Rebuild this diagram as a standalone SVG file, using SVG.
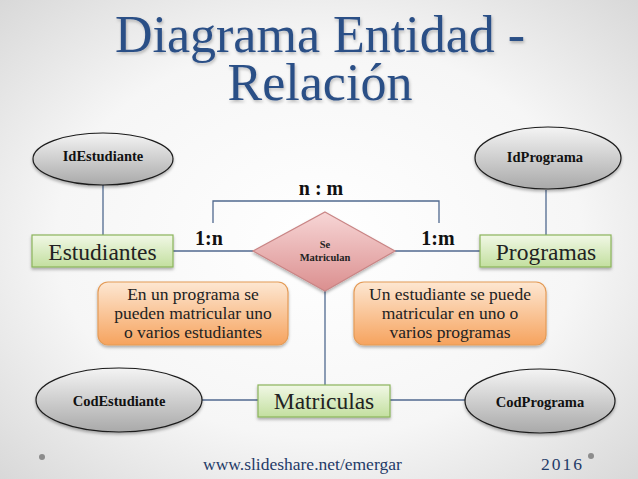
<svg xmlns="http://www.w3.org/2000/svg" width="638" height="479" viewBox="0 0 638 479" font-family="Liberation Serif, DejaVu Serif, serif">
<defs>
  <radialGradient id="bg" cx="0.5" cy="0.5" r="0.75">
    <stop offset="0" stop-color="#ffffff"/>
    <stop offset="0.55" stop-color="#f6f6f6"/>
    <stop offset="1" stop-color="#d4d4d4"/>
  </radialGradient>
  <linearGradient id="gEll" x1="0" y1="0" x2="0" y2="1">
    <stop offset="0" stop-color="#f4f4f4"/>
    <stop offset="1" stop-color="#a9a9a9"/>
  </linearGradient>
  <linearGradient id="gRect" x1="0" y1="0" x2="0" y2="1">
    <stop offset="0" stop-color="#f1f8e6"/>
    <stop offset="1" stop-color="#c3df9f"/>
  </linearGradient>
  <linearGradient id="gDia" x1="0" y1="0" x2="0" y2="1">
    <stop offset="0" stop-color="#f7d6d6"/>
    <stop offset="1" stop-color="#db8f8f"/>
  </linearGradient>
  <linearGradient id="gNote" x1="0" y1="0" x2="0" y2="1">
    <stop offset="0" stop-color="#fde7d2"/>
    <stop offset="1" stop-color="#f6a35e"/>
  </linearGradient>
  <filter id="sh" x="-20%" y="-20%" width="140%" height="150%">
    <feDropShadow dx="0" dy="2" stdDeviation="1.5" flood-color="#000" flood-opacity="0.3"/>
  </filter>
  <filter id="tsh" x="-5%" y="-10%" width="110%" height="130%">
    <feDropShadow dx="1" dy="2" stdDeviation="1.5" flood-color="#000" flood-opacity="0.25"/>
  </filter>
</defs>
<style>
  .ell { fill: url(#gEll); stroke: #1c1c1c; stroke-width: 1.2; }
  .ent { fill: url(#gRect); stroke: #8bb45a; stroke-width: 1.2; }
  .rel { fill: url(#gDia); stroke: #c98585; stroke-width: 1.2; }
  .note { fill: url(#gNote); stroke: #e49b57; stroke-width: 1.2; }
  .con { fill: none; stroke: #50698f; stroke-width: 1.3; }
  .attr { font-weight: bold; font-size: 14.5px; fill: #111; text-anchor: middle; }
  .entt { font-size: 23.5px; fill: #222; text-anchor: middle; }
  .card { font-weight: bold; font-size: 20px; fill: #111; text-anchor: middle; }
  .nt { font-size: 17.5px; fill: #222; text-anchor: middle; }
  .foot { font-size: 17.5px; fill: #1f3b68; }
  .ttl { font-size: 52px; fill: #2c4f86; text-anchor: middle; }
  .rl { font-size: 10.5px; font-weight: bold; fill: #222; text-anchor: middle; }
</style>

<rect x="0" y="0" width="638" height="479" fill="url(#bg)"/>

<g id="title" filter="url(#tsh)" font-family="Liberation Serif, serif">
  <text class="ttl" x="320" y="52" font-family="Liberation Serif, serif">Diagrama Entidad -</text>
  <text class="ttl" x="320" y="100" font-family="Liberation Serif, serif">Relación</text>
</g>

<g id="connectors">
  <line class="con" x1="103" y1="185" x2="103" y2="235"/>
  <line class="con" x1="546" y1="190" x2="546" y2="235"/>
  <line class="con" x1="173" y1="251" x2="253" y2="251"/>
  <line class="con" x1="395" y1="251" x2="480" y2="251"/>
  <line class="con" x1="325" y1="291" x2="325" y2="385"/>
  <line class="con" x1="202" y1="400" x2="258" y2="400"/>
  <line class="con" x1="390" y1="400" x2="465" y2="400"/>
  <polyline class="con" points="213,223 213,201 439,201 439,223"/>
</g>

<g id="label-nm"><text class="card" x="321" y="195" font-family="Liberation Serif, serif">n : m</text></g>
<g id="label-1n"><text class="card" x="209" y="245" font-family="Liberation Serif, serif">1:n</text></g>
<g id="label-1m"><text class="card" x="438" y="245" font-family="Liberation Serif, serif">1:m</text></g>

<g id="IdEstudiante">
  <ellipse class="ell" cx="103" cy="159" rx="70" ry="26" filter="url(#sh)"/>
  <text class="attr" x="103" y="161" font-family="Liberation Serif, serif">IdEstudiante</text>
</g>
<g id="IdPrograma">
  <ellipse class="ell" cx="548" cy="158" rx="73" ry="31" filter="url(#sh)"/>
  <text class="attr" x="545" y="162" font-family="Liberation Serif, serif">IdPrograma</text>
</g>

<g id="Estudiantes">
  <rect class="ent" x="32" y="235" width="141" height="32" filter="url(#sh)"/>
  <text class="entt" x="102.5" y="260" font-family="Liberation Serif, serif">Estudiantes</text>
</g>
<g id="Programas">
  <rect class="ent" x="480" y="235" width="131" height="32" filter="url(#sh)"/>
  <text class="entt" x="546" y="260" font-family="Liberation Serif, serif">Programas</text>
</g>

<g id="SeMatriculan">
  <polygon class="rel" points="325,212 395,251 325,291 253,251" filter="url(#sh)"/>
  <text class="rl" x="325" y="248" font-family="Liberation Serif, serif">Se</text>
  <text class="rl" x="325" y="261" font-family="Liberation Serif, serif">Matriculan</text>
</g>

<g id="note-left" font-family="Liberation Serif, serif">
  <rect class="note" x="98" y="282" width="190" height="63" rx="10" filter="url(#sh)"/>
  <text class="nt" x="193" y="300" font-family="Liberation Serif, serif">En un programa se</text>
  <text class="nt" x="193" y="319" font-family="Liberation Serif, serif">pueden matricular uno</text>
  <text class="nt" x="193" y="338" font-family="Liberation Serif, serif">o varios estudiantes</text>
</g>
<g id="note-right">
  <rect class="note" x="354" y="282" width="192" height="63" rx="10" filter="url(#sh)"/>
  <text class="nt" x="450" y="300" font-family="Liberation Serif, serif">Un estudiante se puede</text>
  <text class="nt" x="450" y="319" font-family="Liberation Serif, serif">matricular en uno o</text>
  <text class="nt" x="450" y="338" font-family="Liberation Serif, serif">varios programas</text>
</g>

<g id="Matriculas">
  <rect class="ent" x="258" y="385" width="132" height="32" filter="url(#sh)"/>
  <text class="entt" x="324" y="409" font-family="Liberation Serif, serif">Matriculas</text>
</g>

<g id="CodEstudiante">
  <ellipse class="ell" cx="119" cy="400" rx="83" ry="32" filter="url(#sh)"/>
  <text class="attr" x="119" y="406" font-family="Liberation Serif, serif">CodEstudiante</text>
</g>
<g id="CodPrograma">
  <ellipse class="ell" cx="540" cy="401" rx="75" ry="32" filter="url(#sh)"/>
  <text class="attr" x="540" y="407" font-family="Liberation Serif, serif">CodPrograma</text>
</g>

<g id="footer">
  <circle cx="42" cy="457" r="3" fill="#8c8c8c"/>
  <circle cx="591" cy="456" r="3" fill="#8c8c8c"/>
  <text class="foot" x="203" y="470" font-family="Liberation Serif, serif">www.slideshare.net/emergar</text>
  <text class="foot" x="541" y="470" textLength="41" font-family="Liberation Serif, serif">2016</text>
</g>
</svg>
